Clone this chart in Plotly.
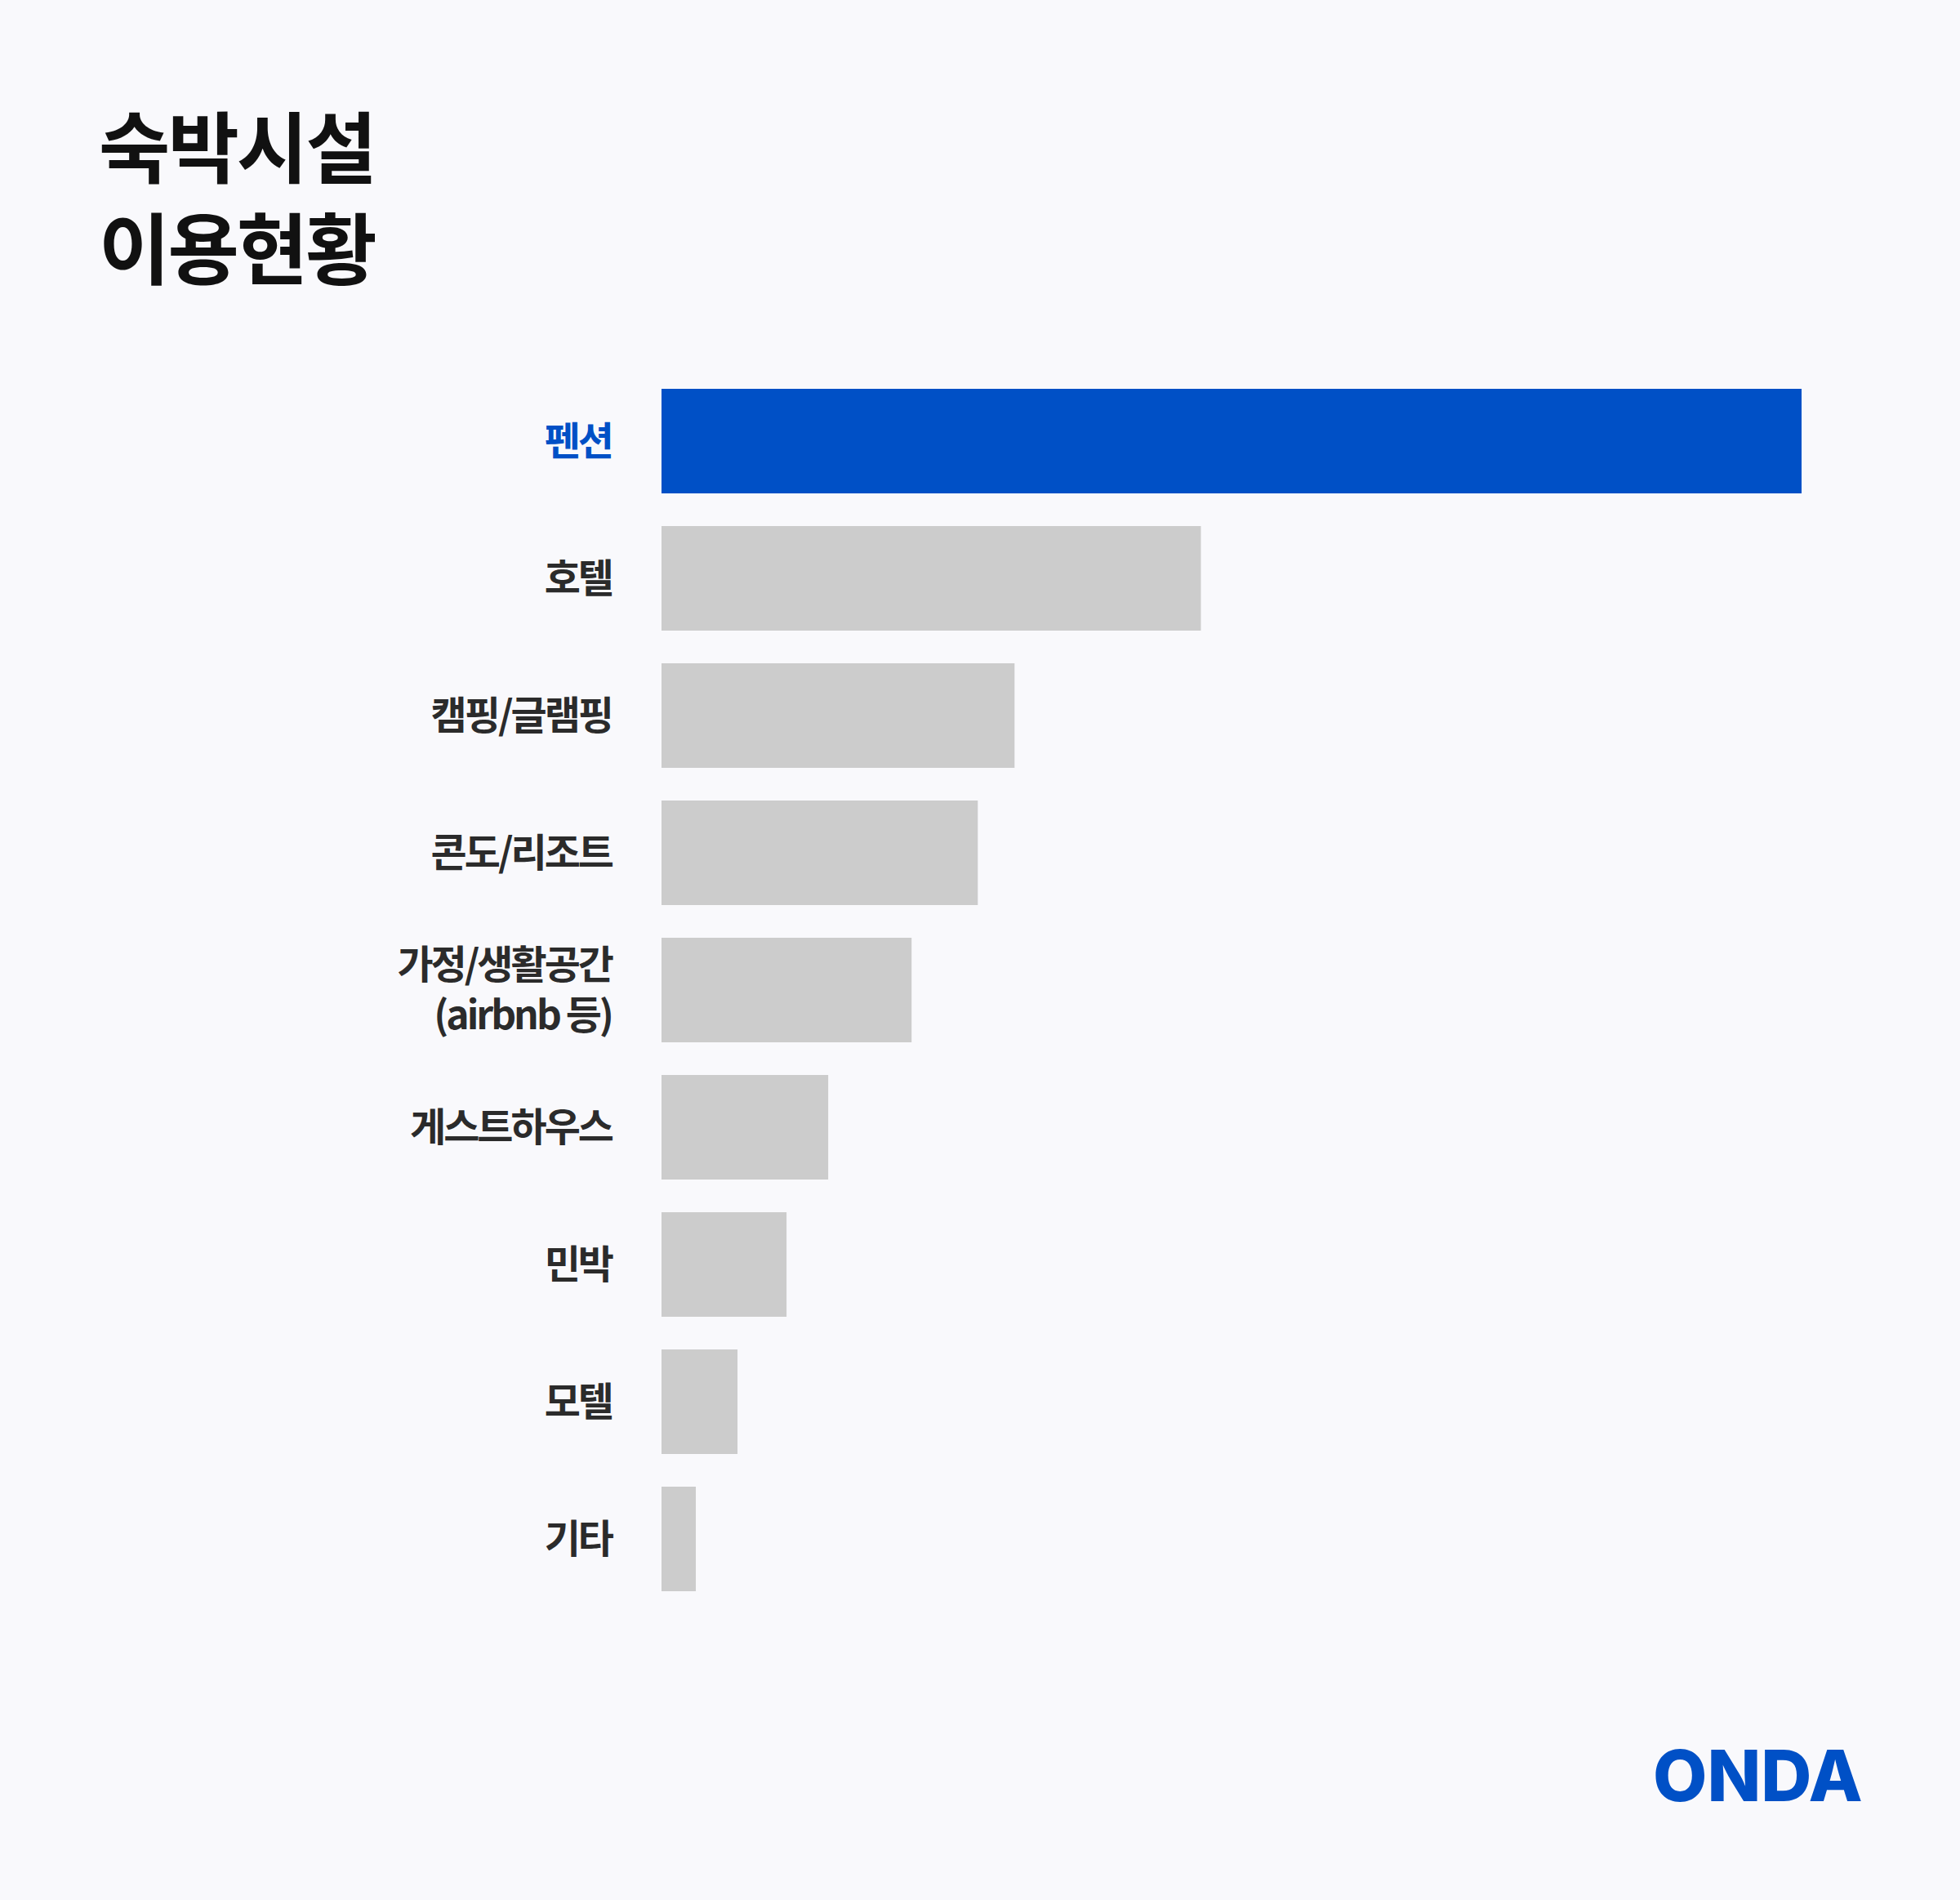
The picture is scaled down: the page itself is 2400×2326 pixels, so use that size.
import plotly.graph_objects as go

categories = ["펜션", "호텔", "캠핑/글램핑", "콘도/리조트", "가정/생활공간<br>(airbnb 등)",
              "게스트하우스", "민박", "모텔", "기타"]
values = [46.5, 22.0, 14.4, 12.9, 10.2, 6.8, 5.1, 3.1, 1.4]
highlight = "펜션"
title_lines = ["숙박시설", "이용현황"]
logo_text = "ONDA"

BLUE = "#0050C6"
GRAY = "#CCCCCC"
BG = "#F9F9FC"
LABEL = "#2B2B2B"

W, H = 2400, 2326
L, R, T, B = 810, 194, 456, 358
pw, ph = W - L - R, H - T - B

def px(x):
    return (x - L) / pw

def py(y):
    return (H - B - y) / ph

colors = [BLUE if c == highlight else GRAY for c in categories]
ticktext = []
for c in categories:
    col = BLUE if c == highlight else LABEL
    ticktext.append(f'<span style="color:{col};letter-spacing:-3px">{c}</span>')

fig = go.Figure(go.Bar(
    x=values, y=categories, orientation="h",
    marker=dict(color=colors, line=dict(width=0)),
    hoverinfo="skip",
))

fig.update_layout(
    width=W, height=H,
    paper_bgcolor=BG, plot_bgcolor=BG,
    margin=dict(l=L, r=R, t=T, b=B, autoexpand=False),
    bargap=0.238,
    showlegend=False,
    xaxis=dict(range=[0, max(values)], visible=False, fixedrange=True),
    yaxis=dict(
        autorange=False, range=[len(categories) - 0.5, -0.5],
        tickvals=categories, ticktext=ticktext,
        showgrid=False, zeroline=False, showline=False, ticks="",
        ticklabelstandoff=60,
        tickfont=dict(family="Noto Sans CJK KR", size=48, color=LABEL, weight="bold"),
        fixedrange=True,
    ),
    font=dict(family="Noto Sans CJK KR"),
)

fig.add_annotation(
    xref="paper", yref="paper", x=px(119), y=py(105),
    xanchor="left", yanchor="top", showarrow=False, align="left",
    text='<span style="letter-spacing:-3px">' + "<br>".join(title_lines) + "</span>",
    font=dict(family="Noto Sans CJK KR", size=95, color="#111111", weight="bold"),
)

fig.add_annotation(
    xref="paper", yref="paper", x=px(2283), y=py(2174),
    xanchor="right", yanchor="middle", showarrow=False,
    text=logo_text,
    font=dict(family="Inter", size=86, color=BLUE, weight=800),
)

fig.write_html("out.html")
